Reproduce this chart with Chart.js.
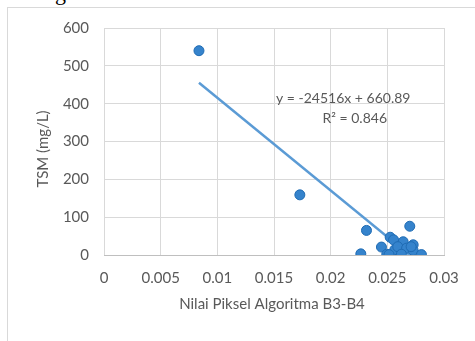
<!DOCTYPE html>
<html>
<head>
<meta charset="utf-8">
<script src="https://cdn.jsdelivr.net/npm/chart.js@4"></script>
<style>
    html, body { margin: 0; padding: 0; background: #fff; }
    #wrap { position: relative; width: 475px; height: 341px; overflow: hidden; }
    #frame { position: absolute; left: 7px; top: 7px; width: 480px; height: 340px;
             border-left: 1px solid #d9d9d9; border-top: 1px solid #d9d9d9; }
    #cut { position: absolute; left: 55px; top: -20px; font: 22px "Liberation Serif"; color: #000; }
    canvas { position: absolute; left: 0; top: 0; }
</style>
</head>
<body>
<div id="wrap">
    <div id="cut">g</div>
    <div id="frame"></div>
    <canvas id="tsmChart" width="475" height="341"></canvas>
</div>
<script>
// Data
const pixelValues = [0.00838, 0.01728, 0.02316, 0.02266, 0.02698, 0.02525, 0.02555, 0.02448, 0.02640,
                     0.02728, 0.02566, 0.02592, 0.02670, 0.02728, 0.02495, 0.02515, 0.02624, 0.02801, 0.02710];
const tsmValues = [540, 159, 65, 3, 76, 47, 40, 21, 35, 27, 14, 22, 18, 12, 2, 1, 2, 1, 22];

const xTicks = [0, 0.005, 0.01, 0.015, 0.02, 0.025, 0.03];
const yTicks = [0, 100, 200, 300, 400, 500, 600];

// Trendline as printed on the chart
const slope = -24516;
const intercept = 660.89;
const equationText = "y = -24516x + 660.89";
const r2Text = "R² = 0.846";

const xTitle = "Nilai Piksel Algoritma B3-B4";
const yTitle = "TSM (mg/L)";

const points = pixelValues.map((x, i) => ({ x: x, y: tsmValues[i] }));
const xMin = Math.min(...pixelValues);
const xMax = Math.max(...pixelValues);
const trend = [
    { x: xMin, y: slope * xMin + intercept },
    { x: xMax, y: slope * xMax + intercept }
];

const FONT = "Lato";
const GREY = "#595959";

// draws axis titles and the equation
const labelsPlugin = {
    id: "labels",
    afterDraw(chart) {
        const ctx = chart.ctx;
        const area = chart.chartArea;
        ctx.save();
        ctx.fillStyle = GREY;
        ctx.font = "15px " + FONT;
        ctx.textAlign = "center";
        ctx.textBaseline = "middle";
        ctx.fillText(xTitle, (area.left + area.right) / 2 - 2, 304);

        ctx.save();
        ctx.translate(43, 149);
        ctx.rotate(-Math.PI / 2);
        ctx.fillText(yTitle, 0, 0);
        ctx.restore();

        ctx.font = "14px " + FONT;
        ctx.textAlign = "left";
        ctx.fillText(equationText, 276, 98);
        ctx.textAlign = "right";
        ctx.fillText(r2Text, 387, 118);
        ctx.restore();
    }
};

new Chart(document.getElementById("tsmChart"), {
    type: "scatter",
    data: {
        datasets: [
            {
                label: "trend",
                type: "line",
                data: trend,
                borderColor: "#5b9bd5",
                borderWidth: 2.5,
                pointRadius: 0,
                fill: false,
                order: 2
            },
            {
                label: "TSM",
                data: points,
                backgroundColor: "#3583cc",
                borderColor: "#1f6bb3",
                borderWidth: 1,
                pointRadius: 5,
                order: 1
            }
        ]
    },
    options: {
        responsive: false,
        animation: false,
        layout: { padding: { top: 28, right: 31, left: 0, bottom: 0 } },
        plugins: { legend: { display: false }, tooltip: { enabled: false } },
        scales: {
            x: {
                type: "linear",
                min: 0,
                max: 0.03,
                afterBuildTicks: s => { s.ticks = xTicks.map(v => ({ value: v })); },
                afterFit: s => { s.height = 86; },
                grid: { color: "#d9d9d9", drawTicks: false },
                border: { color: "#bfbfbf", width: 1 },
                ticks: {
                    color: GREY,
                    font: { family: FONT, size: 15 },
                    padding: 14,
                    maxRotation: 0,
                    callback: v => String(v)
                }
            },
            y: {
                min: 0,
                max: 600,
                afterBuildTicks: s => { s.ticks = yTicks.map(v => ({ value: v })); },
                afterFit: s => { s.width = 104; },
                grid: { color: "#d9d9d9", drawTicks: false },
                border: { display: false },
                ticks: {
                    color: GREY,
                    font: { family: FONT, size: 15 },
                    padding: 15
                }
            }
        }
    },
    plugins: [labelsPlugin]
});
</script>
</body>
</html>
